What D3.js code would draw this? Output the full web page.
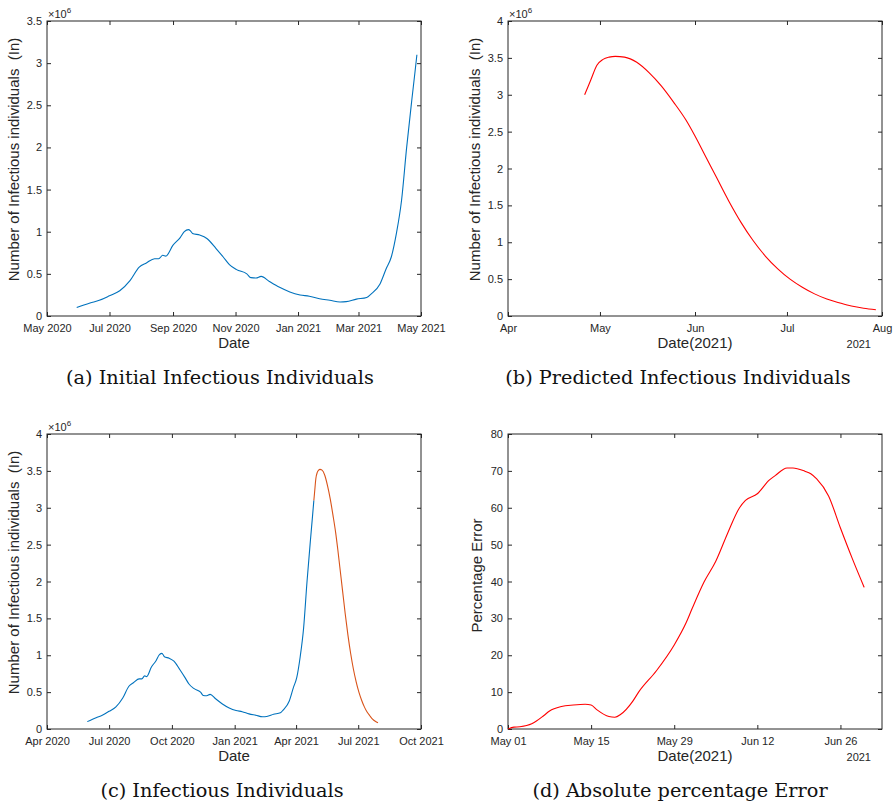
<!DOCTYPE html>
<html>
<head>
<meta charset="utf-8">
<script src="https://cdn.jsdelivr.net/npm/d3@7"></script>
<style>
  body { margin: 0; background: #fff; }
  svg { display: block; font-family: "Liberation Sans", Arial, sans-serif; }
  .tick text { font-family: "Liberation Sans", Arial, sans-serif; font-size: 11px; fill: #262626; }
  .tick line { stroke: #262626; }
  .label { font-family: "Liberation Sans", Arial, sans-serif; font-size: 15px; fill: #262626; white-space: pre; }
  .caption { font-family: "DejaVu Serif", serif; font-size: 19.3px; fill: #111; }
</style>
</head>
<body>
<div id="chart"></div>
<script>
// observed infectious individuals (millions), panels a and c
var obsDates = ["2020-05-30","2020-06-06","2020-06-12","2020-06-21","2020-07-01","2020-07-11","2020-07-21",
  "2020-07-30","2020-08-06","2020-08-14","2020-08-18","2020-08-22","2020-08-25","2020-09-01","2020-09-08",
  "2020-09-12","2020-09-16","2020-09-18","2020-09-20","2020-09-27","2020-10-04","2020-10-13","2020-10-20",
  "2020-10-26","2020-11-02","2020-11-12","2020-11-16","2020-11-21","2020-11-26","2020-12-04","2020-12-14",
  "2020-12-24","2021-01-03","2021-01-12","2021-01-22","2021-02-01","2021-02-11","2021-02-17","2021-02-27",
  "2021-03-09","2021-03-13","2021-03-22","2021-03-28","2021-04-02","2021-04-07","2021-04-12","2021-04-17",
  "2021-04-22","2021-04-25","2021-04-27"];
var obsValues = [0.10,0.13,0.154,0.186,0.24,0.30,0.42,
  0.58,0.63,0.68,0.68,0.72,0.71,0.84,0.93,
  1.00,1.025,1.01,0.98,0.96,0.92,0.80,0.70,
  0.61,0.55,0.50,0.455,0.45,0.47,0.41,0.34,
  0.285,0.25,0.235,0.205,0.186,0.166,0.17,0.20,
  0.22,0.257,0.38,0.56,0.70,0.98,1.37,2.00,
  2.56,2.88,3.10];

// predicted infectious individuals (millions), panels b and c
var predDates = ["2021-04-26","2021-04-28","2021-04-30","2021-05-02","2021-05-04","2021-05-06","2021-05-09",
  "2021-05-13","2021-05-17","2021-05-21","2021-05-25","2021-05-29","2021-06-01","2021-06-04","2021-06-08",
  "2021-06-12","2021-06-16","2021-06-20","2021-06-24","2021-06-28","2021-07-02","2021-07-06","2021-07-10",
  "2021-07-14","2021-07-18","2021-07-22","2021-07-26","2021-07-30"];
var predValues = [3.00,3.20,3.40,3.48,3.51,3.52,3.51,
  3.44,3.30,3.12,2.90,2.66,2.44,2.20,1.88,
  1.56,1.27,1.02,0.81,0.64,0.50,0.39,0.30,
  0.23,0.18,0.135,0.105,0.085];

// absolute percentage error, panel d
var apeDates = ["2021-05-01","2021-05-02","2021-05-03","2021-05-05","2021-05-07","2021-05-08","2021-05-10",
  "2021-05-12","2021-05-14","2021-05-15","2021-05-16","2021-05-18","2021-05-19","2021-05-20","2021-05-22",
  "2021-05-23","2021-05-26","2021-05-29","2021-05-31","2021-06-01","2021-06-03","2021-06-05","2021-06-07",
  "2021-06-09","2021-06-10","2021-06-12","2021-06-14","2021-06-15","2021-06-17","2021-06-18","2021-06-20",
  "2021-06-21","2021-06-22","2021-06-24","2021-06-26","2021-06-28","2021-06-30"];
var apeValues = [0.0,0.5,0.6,1.4,3.6,4.9,6.1,
  6.5,6.7,6.5,5.2,3.4,3.2,4.0,7.5,
  10.0,15.8,22.8,28.8,32.6,39.8,45.5,53.1,
  60.0,62.0,63.8,67.5,68.7,70.8,70.8,69.9,
  69.2,67.8,63.2,54.5,46.2,38.4];

// axis ticks
var ticksA = ["2020-05-01","2020-07-01","2020-09-01","2020-11-01","2021-01-01","2021-03-01","2021-05-01"];
var ticksB = ["2021-04-01","2021-05-01","2021-06-01","2021-07-01","2021-08-01"];
var ticksC = ["2020-04-01","2020-07-01","2020-10-01","2021-01-01","2021-04-01","2021-07-01","2021-10-01"];
var ticksD = ["2021-05-01","2021-05-15","2021-05-29","2021-06-12","2021-06-26"];
var yTicksInf35 = [0,0.5,1,1.5,2,2.5,3,3.5];
var yTicksInf4 = [0,0.5,1,1.5,2,2.5,3,3.5,4];
var yTicksApe = [0,10,20,30,40,50,60,70,80];

var captions = ["(a) Initial Infectious Individuals", "(b) Predicted Infectious Individuals",
  "(c) Infectious Individuals", "(d) Absolute percentage Error"];

var parse = d3.timeParse("%Y-%m-%d");
function series(dates, values) {
  return dates.map(function(d, i) { return { date: parse(d), value: values[i] }; });
}
var obs = series(obsDates, obsValues);
var pred = series(predDates, predValues);
var ape = series(apeDates, apeValues);

// in panel c the forecast continues from the last observed day
var lastObs = obs[obs.length - 1];
var predJoined = [lastObs].concat(pred.filter(function(d) { return d.date > lastObs.date; }));

var svg = d3.select("#chart").append("svg")
  .attr("width", 893).attr("height", 806);
svg.append("rect").attr("width", 893).attr("height", 806).attr("fill", "#fff");

function drawPanel(p) {
  var g = svg.append("g").attr("transform", "translate(" + p.left + "," + p.top + ")");
  var w = p.width, h = p.height;

  var x = d3.scaleTime().domain(p.xDomain.map(parse)).range([0, w]);
  var y = d3.scaleLinear().domain(p.yDomain).range([h, 0]);

  var xt = p.xTicks.map(parse);
  var fmtY = function(d) { return String(d); };

  g.append("g").attr("transform", "translate(0," + h + ")")
    .call(d3.axisBottom(x).tickValues(xt).tickFormat(d3.timeFormat(p.xFormat))
      .tickSizeInner(-4).tickSizeOuter(0).tickPadding(8))
    .call(function(a) { a.select(".domain").remove(); });
  g.append("g")
    .call(d3.axisTop(x).tickValues(xt).tickFormat("").tickSizeInner(-4).tickSizeOuter(0))
    .call(function(a) { a.select(".domain").remove(); });
  g.append("g")
    .call(d3.axisLeft(y).tickValues(p.yTicks).tickFormat(fmtY)
      .tickSizeInner(-4).tickSizeOuter(0).tickPadding(5))
    .call(function(a) { a.select(".domain").remove(); });
  g.append("g").attr("transform", "translate(" + w + ",0)")
    .call(d3.axisRight(y).tickValues(p.yTicks).tickFormat("").tickSizeInner(-4).tickSizeOuter(0))
    .call(function(a) { a.select(".domain").remove(); });

  g.append("rect").attr("width", w).attr("height", h)
    .attr("fill", "none").attr("stroke", "#262626").attr("stroke-width", 1);

  var line = d3.line()
    .x(function(d) { return x(d.date); })
    .y(function(d) { return y(d.value); })
    .curve(d3.curveMonotoneX);

  p.lines.forEach(function(l) {
    g.append("path").datum(l.data)
      .attr("fill", "none").attr("stroke", l.color).attr("stroke-width", 1.1)
      .attr("d", line);
  });

  // exponent marker
  if (p.exponent) {
    var t = g.append("text").attr("x", 1).attr("y", -3).attr("font-size", 11).attr("fill", "#262626");
    t.append("tspan").text("\u00d710");
    t.append("tspan").attr("dy", -5).attr("font-size", 8).text("6");
  }

  g.append("text").attr("class", "label")
    .attr("x", w / 2).attr("y", h + p.xLabelDy)
    .attr("text-anchor", "middle").text(p.xLabel);
  if (p.yearLabel) {
    g.append("text").attr("x", w - 11).attr("y", h + p.xLabelDy)
      .attr("text-anchor", "end").attr("font-size", 11).attr("fill", "#262626")
      .text(p.yearLabel);
  }
  g.append("text").attr("class", "label")
    .attr("transform", "translate(" + p.yLabelX + "," + (h / 2 + p.yLabelDy) + ") rotate(-90)")
    .attr("text-anchor", "middle").text(p.yLabel);

  svg.append("text").attr("class", "caption")
    .attr("x", p.captionX).attr("y", p.captionY)
    .attr("text-anchor", "middle").text(p.caption);
}

var infLabel = "Number of Infectious individuals  (In)";

drawPanel({
  left: 47, top: 21, width: 374, height: 295,
  xDomain: ["2020-05-01", "2021-05-01"], xTicks: ticksA, xFormat: "%b %Y",
  yDomain: [0, 3.5], yTicks: yTicksInf35, exponent: true,
  lines: [{ data: obs, color: "#0072BD" }],
  xLabel: "Date", xLabelDy: 32, yLabel: infLabel, yLabelX: -28, yLabelDy: -9,
  caption: captions[0], captionX: 220, captionY: 384
});

drawPanel({
  left: 508, top: 21, width: 374, height: 295,
  xDomain: ["2021-04-01", "2021-08-01"], xTicks: ticksB, xFormat: "%b",
  yDomain: [0, 4], yTicks: yTicksInf4, exponent: true,
  lines: [{ data: pred, color: "#FF0000" }],
  xLabel: "Date(2021)", xLabelDy: 32, yearLabel: "2021", yLabel: infLabel, yLabelX: -28, yLabelDy: -9,
  caption: captions[1], captionX: 678, captionY: 384
});

drawPanel({
  left: 47, top: 434, width: 374, height: 295,
  xDomain: ["2020-04-01", "2021-10-01"], xTicks: ticksC, xFormat: "%b %Y",
  yDomain: [0, 4], yTicks: yTicksInf4, exponent: true,
  lines: [{ data: obs, color: "#0072BD" }, { data: predJoined, color: "#D95319" }],
  xLabel: "Date", xLabelDy: 32, yLabel: infLabel, yLabelX: -28, yLabelDy: -9,
  caption: captions[2], captionX: 222, captionY: 797
});

drawPanel({
  left: 508, top: 434, width: 374, height: 295,
  xDomain: ["2021-05-01", "2021-07-03"], xTicks: ticksD, xFormat: "%b %d",
  yDomain: [0, 80], yTicks: yTicksApe, exponent: false,
  lines: [{ data: ape, color: "#FF0000" }],
  xLabel: "Date(2021)", xLabelDy: 32, yearLabel: "2021", yLabel: "Percentage Error", yLabelX: -26, yLabelDy: -6,
  caption: captions[3], captionX: 680, captionY: 797
});
</script>
</body>
</html>
